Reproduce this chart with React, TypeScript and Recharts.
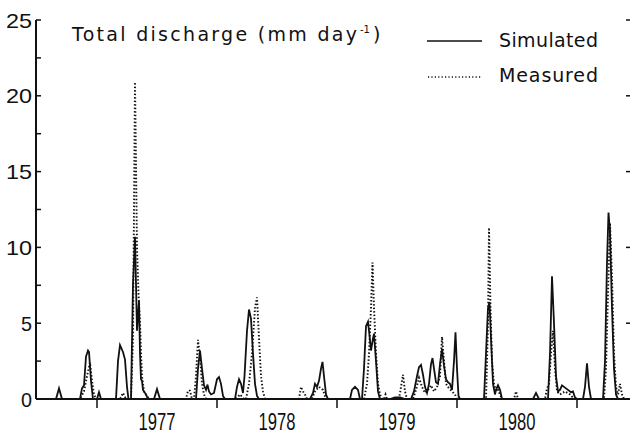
import { LineChart, Line, XAxis, YAxis } from "recharts";

// time in months counted from Jan 1976 (12 = start of 1977), value in mm/day
const simulated: [number, number][] = [
  [5.9, 0], [7.9, 0], [8.2, 0.7], [8.5, 0],
  [10.3, 0], [10.5, 0.7], [10.7, 0.9], [10.9, 2.8], [11.1, 3.2], [11.2, 3.1], [11.4, 1.2], [11.6, 0],
  [12.0, 0], [12.2, 0.45], [12.4, 0],
  [13.9, 0], [14.1, 2.5], [14.3, 3.55], [14.6, 3.1], [14.8, 2.6], [15.0, 0.8], [15.15, 0],
  [15.4, 0], [15.6, 7.6], [15.8, 10.7], [16.0, 4.5], [16.1, 5.5], [16.2, 6.5], [16.3, 3], [16.4, 1.3],
  [16.5, 1.2], [16.6, 0.6], [16.9, 0.3], [17.1, 0],
  [17.7, 0], [18.0, 0.65], [18.3, 0],
  [21.9, 0], [22.1, 2], [22.3, 3.2], [22.5, 2], [22.7, 0.9], [22.9, 0.6], [23.05, 0.95], [23.2, 0.5],
  [23.4, 0.3], [23.7, 0.4], [24.0, 1.3], [24.2, 1.45], [24.4, 1.0], [24.6, 0.2], [24.8, 0],
  [25.8, 0], [26.0, 0.8], [26.2, 1.3], [26.4, 1.0], [26.6, 0.4], [26.75, 1.5], [27.0, 4.5], [27.2, 5.9],
  [27.4, 5.3], [27.6, 3], [27.8, 1], [28.0, 0.2], [28.2, 0],
  [33.3, 0], [33.6, 0.4], [33.8, 1.0], [34.0, 0.8], [34.2, 1.2], [34.4, 2], [34.55, 2.45], [34.7, 1.5],
  [34.9, 0.3], [35.1, 0],
  [37.3, 0], [37.5, 0.6], [37.8, 0.8], [38.1, 0.6], [38.3, 0],
  [38.5, 0], [38.7, 2], [38.9, 4.8], [39.1, 5.1], [39.25, 4.2], [39.4, 3.2], [39.6, 4.0], [39.7, 4.3],
  [39.9, 2.5], [40.1, 0.5], [40.3, 0],
  [41.3, 0], [41.8, 0.1], [42.3, 0.1], [42.8, 0],
  [43.4, 0], [43.7, 0.5], [44.0, 1.5], [44.2, 2.1], [44.4, 2.25], [44.6, 1.6], [44.8, 0.8], [45.0, 0.4],
  [45.2, 1.0], [45.4, 2.3], [45.55, 2.7], [45.7, 2.0], [45.9, 1.1], [46.1, 1.0], [46.3, 2.3], [46.5, 3.3],
  [46.7, 2.2], [46.9, 1.3], [47.1, 1.1], [47.3, 1.0], [47.5, 0.6], [47.7, 2.5], [47.85, 4.4], [48.0, 2.0],
  [48.15, 0.2], [48.3, 0],
  [50.7, 0], [50.9, 3], [51.1, 6.0], [51.25, 6.4], [51.4, 4], [51.6, 1], [51.8, 0.3], [51.9, 0.6],
  [52.1, 0.9], [52.3, 0.6], [52.5, 0],
  [55.6, 0], [55.9, 0.4], [56.2, 0],
  [57.1, 0], [57.3, 3], [57.5, 8.1], [57.7, 5], [57.9, 1.5], [58.1, 0.5], [58.3, 0.6], [58.5, 0.9],
  [58.8, 0.75], [59.1, 0.6], [59.4, 0.45], [59.6, 0.5], [59.8, 0.1], [60.0, 0],
  [60.6, 0], [60.8, 0.8], [61.0, 2.35], [61.2, 0.8], [61.4, 0],
  [62.6, 0], [62.8, 2.5], [63.0, 9], [63.15, 12.3], [63.3, 11], [63.5, 6], [63.7, 2], [63.9, 0.3],
  [64.1, 0], [65.3, 0],
];

const measured: [number, number][] = [
  [5.9, 0],
  [10.3, 0], [10.7, 0.5], [11.0, 1.5], [11.3, 2.4], [11.5, 1.2], [11.7, 0.3], [11.9, 0],
  [14.3, 0], [14.6, 0.4], [14.9, 0],
  [15.4, 0], [15.6, 4], [15.8, 20.9], [16.0, 10], [16.15, 7], [16.3, 5], [16.4, 3], [16.5, 1.5],
  [16.7, 0.5], [17.0, 0.2], [17.2, 0],
  [20.9, 0], [21.1, 0.55], [21.3, 0.55], [21.5, 0],
  [21.7, 0], [21.9, 1.5], [22.1, 3.9], [22.3, 2.8], [22.5, 1], [22.7, 0.3], [22.9, 0],
  [25.9, 0], [26.3, 0.3], [26.7, 0],
  [26.9, 0], [27.2, 1], [27.5, 3], [27.8, 6.0], [28.0, 6.7], [28.2, 4], [28.4, 1.5], [28.6, 0.5], [28.8, 0],
  [32.2, 0], [32.4, 0.8], [32.6, 0.5], [32.8, 0.3], [33.0, 0],
  [33.5, 0], [33.8, 0.5], [34.2, 0.8], [34.6, 0.6], [34.9, 0],
  [38.7, 0], [39.0, 1], [39.2, 3], [39.4, 6], [39.55, 9.0], [39.7, 6], [39.9, 3], [40.1, 1], [40.3, 0.3],
  [40.5, 0],
  [40.7, 0], [40.85, 0.3], [41.0, 0],
  [42.2, 0], [42.4, 0.8], [42.6, 1.6], [42.8, 0.5], [43.0, 0],
  [43.6, 0], [43.9, 0.6], [44.2, 1.4], [44.5, 0.8], [44.8, 0.4], [45.1, 0.6], [45.4, 0.9], [45.7, 0.5],
  [46.0, 0.8], [46.3, 1.5], [46.5, 4.1], [46.7, 2.5], [46.9, 1.0], [47.2, 0.7], [47.5, 0.5], [47.8, 0.3],
  [48.0, 0],
  [50.9, 0], [51.1, 5], [51.2, 11.3], [51.35, 6], [51.5, 2.5], [51.7, 1], [51.9, 0.5], [52.1, 0.6],
  [52.3, 0.3], [52.5, 0],
  [53.7, 0], [53.9, 0.5], [54.1, 0],
  [56.8, 0], [57.0, 0.7], [57.2, 1.0], [57.4, 3], [57.6, 4.5], [57.8, 2], [58.0, 0.5], [58.3, 0.3],
  [58.8, 0.5], [59.3, 0.3], [59.7, 0],
  [62.7, 0], [62.9, 2], [63.1, 7], [63.3, 11.6], [63.5, 8], [63.7, 3], [63.9, 0.8], [64.1, 0.3],
  [64.3, 1.0], [64.5, 0.3], [64.7, 0], [65.3, 0],
];

const years = [1977, 1978, 1979, 1980];
const yTicks = [0, 2.5, 5, 7.5, 10, 12.5, 15, 17.5, 20, 22.5, 25];
const rightTicks = [0, 5, 10, 15, 20, 25];

const simRows = simulated.map(([m, v]) => ({ m, v }));
const obsRows = measured.map(([m, v]) => ({ m, v }));
const xTicks = [...years.flatMap((yr) => [(yr - 1976) * 12, (yr - 1976) * 12 + 6]), (years[years.length - 1] - 1975) * 12];

const FONT = "'Liberation Sans', 'DejaVu Sans', sans-serif";
const TITLE_FONT = "'DejaVu Sans', 'Liberation Sans', sans-serif";
const INK = "#111";

const XTick = (props: any) => {
  const { x, y, payload } = props;
  const m = payload.value;
  if (m % 12 === 0) {
    return <line x1={x} x2={x} y1={y} y2={y + 9} stroke={INK} strokeWidth={1.5} />;
  }
  return (
    <text x={x} y={y + 31} textAnchor="middle" fontFamily={FONT} fontSize={23} fill={INK}
      textLength={37} lengthAdjust="spacingAndGlyphs">
      {1976 + Math.floor(m / 12)}
    </text>
  );
};

const YTick = (props: any) => {
  const { x, y, payload } = props;
  const v = payload.value;
  return (
    <g>
      <line x1={x} x2={x + 5} y1={y} y2={y} stroke={INK} strokeWidth={1.5} />
      {v % 5 === 0 && (
        <text x={x - 4} y={y} dy="0.36em" textAnchor="end" fontFamily={FONT} fontSize={21} fill={INK}
          textLength={v < 10 ? 11 : 26} lengthAdjust="spacingAndGlyphs">
          {v}
        </text>
      )}
    </g>
  );
};

const RightTick = (props: any) => {
  const { x, y } = props;
  return <line x1={x - 4} x2={x} y1={y} y2={y} stroke={INK} strokeWidth={1.5} />;
};

export default function App() {
  return (
    <div style={{ position: "absolute", left: 0, top: 0, width: 630, height: 434, overflow: "hidden", background: "#fff" }}>
      <LineChart width={632} height={434} margin={{ top: 20, right: 0, bottom: 0, left: 0 }}>
        <XAxis
          type="number"
          dataKey="m"
          domain={[5.9, 65.3]}
          allowDataOverflow
          ticks={xTicks}
          interval={0}
          tick={<XTick />}
          tickLine={false}
          tickSize={0}
          tickMargin={0}
          height={35}
          axisLine={{ stroke: INK, strokeWidth: 2 }}
        />
        <YAxis
          yAxisId="l"
          type="number"
          domain={[0, 25]}
          ticks={yTicks}
          interval={0}
          width={36}
          tick={<YTick />}
          tickLine={false}
          tickSize={0}
          tickMargin={0}
          axisLine={{ stroke: INK, strokeWidth: 2 }}
        />
        <YAxis
          yAxisId="r"
          orientation="right"
          type="number"
          domain={[0, 25]}
          ticks={rightTicks}
          interval={0}
          width={2}
          tick={<RightTick />}
          tickLine={false}
          tickSize={0}
          tickMargin={0}
          axisLine={false}
        />
        <Line
          yAxisId="r"
          data={obsRows}
          dataKey="v"
          type="linear"
          stroke={INK}
          strokeWidth={1.9}
          strokeDasharray="1.5 2"
          dot={false}
          isAnimationActive={false}
        />
        <Line
          yAxisId="l"
          data={simRows}
          dataKey="v"
          type="linear"
          stroke={INK}
          strokeWidth={1.8}
          dot={false}
          isAnimationActive={false}
        />
      </LineChart>
      <svg width={630} height={434} style={{ position: "absolute", left: 0, top: 0, pointerEvents: "none" }}>
        <g fontFamily={TITLE_FONT} fill={INK}>
          <text x={72} y={41} fontSize={19} textLength={285}>Total discharge (mm day</text>
          <text x={360} y={33} fontSize={10}>-1</text>
          <text x={373} y={41} fontSize={19}>)</text>
          <line x1={427} x2={482} y1={41} y2={41} stroke={INK} strokeWidth={1.5} />
          <text x={499} y={47} fontSize={19} textLength={99}>Simulated</text>
          <line x1={428} x2={482} y1={77} y2={77} stroke={INK} strokeWidth={1.5} strokeDasharray="1.2 2.2" />
          <text x={499} y={82} fontSize={19} textLength={99}>Measured</text>
        </g>
      </svg>
    </div>
  );
}
